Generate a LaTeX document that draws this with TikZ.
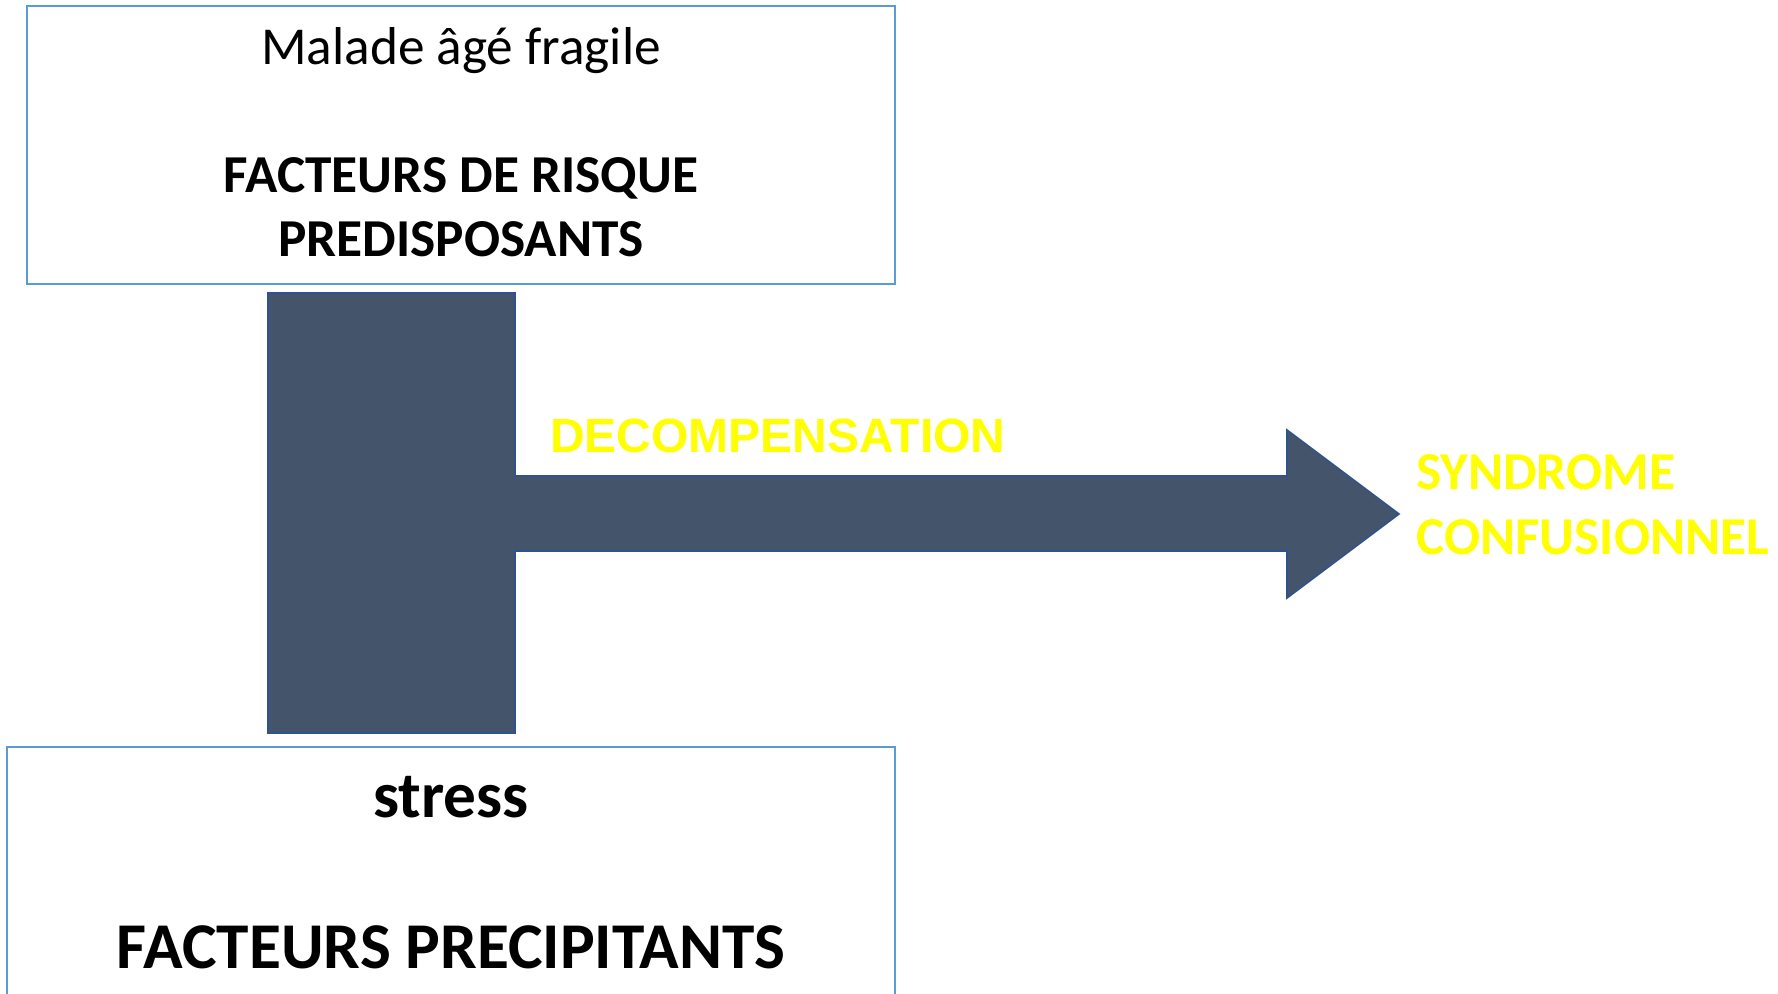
\documentclass[tikz,border=0pt]{standalone}
\usepackage{fontspec}
\setmainfont{Carlito}
\newfontfamily\arialfont{Liberation Sans}
\definecolor{boxblue}{HTML}{5B9BD5}
\definecolor{slate}{HTML}{44546A}
\definecolor{slateedge}{HTML}{2F528F}
\definecolor{yel}{HTML}{FFFF00}
\tikzset{
  framebox/.style={draw=boxblue, line width=1.8pt},
  blockshape/.style={fill=slate, draw=slateedge, line width=1.2pt},
  txt/.style={anchor=base, inner sep=0pt, text=black},
  yeltxt/.style={anchor=base west, inner sep=0pt, text=yel, font=\bfseries\fontsize{40}{48}\selectfont},
}
\begin{document}
\begin{tikzpicture}[x=0.75pt, y=-0.75pt]
\useasboundingbox (0,0) rectangle (1778,994);
% boxes
\draw[framebox] (27,6) rectangle (895,284);
\draw[framebox] (895,1010) -- (895,747) -- (7,747) -- (7,1010);
% T-shaped block with arrow
\coordinate (bartl) at (268,293);
\coordinate (tip) at (1399,514);
\draw[blockshape] (bartl) -- (515,293) -- (515,476) -- (1287,476) -- (1287,430) -- (tip)
  -- (1287,598) -- (1287,551) -- (515,551) -- (515,733) -- (268,733) -- cycle;
% texts top box
\node[txt, font=\fontsize{40}{48}\selectfont] (malade) at (461,65) {Malade âgé fragile};
\node[txt, font=\bfseries\fontsize{40}{48}\selectfont] (risque) at (461,193) {FACTEURS DE RISQUE};
\node[txt, font=\bfseries\fontsize{40}{48}\selectfont] (predis) at (461,257) {PREDISPOSANTS};
% texts bottom box
\node[txt, font=\bfseries\fontsize{49}{58}\selectfont] (stress) at (451,817) {stress};
\node[txt, font=\bfseries\fontsize{49}{58}\selectfont] (precip) at (451,968) {FACTEURS PRECIPITANTS};
% yellow labels
\node[anchor=base west, inner sep=0pt, text=yel, font=\arialfont\bfseries\fontsize{36}{43}\selectfont] (decomp) at (550,453) {DECOMPENSATION};
\node[yeltxt] (syn1) at (1416,490) {SYNDROME};
\node[yeltxt] (syn2) at (1416,555) {CONFUSIONNEL};
\end{tikzpicture}
\end{document}
